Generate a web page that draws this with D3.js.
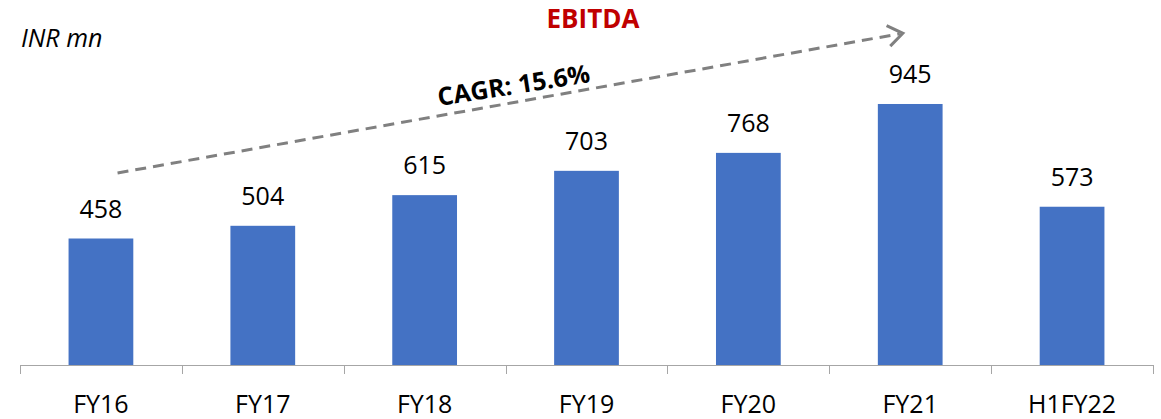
<!DOCTYPE html>
<html lang="en">
<head>
    <meta charset="UTF-8">
    <script src="https://cdn.jsdelivr.net/npm/d3@7"></script>
    <style>
        body {margin: 0; background: #ffffff}
        svg {display: block; font-family: "Open Sans", sans-serif}
    </style>
</head>
<body>
<svg class="chart"></svg>
<script type="text/javascript">
    const categories = ['FY16', 'FY17', 'FY18', 'FY19', 'FY20', 'FY21', 'H1FY22'];
    const ebitda = [458, 504, 615, 703, 768, 945, 573];
    const cagr_label = 'CAGR: 15.6%';

    let width = 1161;
    let height = 419;
    let base_y = 365;

    var svg = d3.select('.chart')
        .attr('width', width)
        .attr('height', height);

    var x_band = d3.scaleBand()
        .domain(categories)
        .range([20, 1153])
        .paddingInner(0.6)
        .paddingOuter(0.3);

    var x_tick = d3.scaleBand()
        .domain(categories)
        .range([20, 1153]);

    var y_range = d3.scaleLinear()
        .domain([0, 1000])
        .range([base_y, base_y - 276.2]);

    // bars
    svg.append('g').selectAll('rect')
        .data(ebitda)
        .enter()
        .append('rect')
        .attr('x', (d, i) => x_band(categories[i]))
        .attr('width', x_band.bandwidth())
        .attr('y', d => y_range(d))
        .attr('height', d => base_y - y_range(d))
        .attr('fill', '#4472C4');

    // value labels
    svg.append('g').selectAll('text')
        .data(ebitda)
        .enter()
        .append('text')
        .attr('x', (d, i) => x_band(categories[i]) + x_band.bandwidth() / 2)
        .attr('y', d => y_range(d) - 21)
        .attr('text-anchor', 'middle')
        .attr('font-size', 25)
        .attr('fill', '#000')
        .text(d => d);

    // x axis, ticks between categories
    var axis = d3.axisBottom(x_tick).tickSize(0).tickFormat('');
    var ax = svg.append('g')
        .attr('transform', 'translate(0,' + base_y + ')')
        .call(axis);
    ax.select('.domain').attr('stroke', '#A6A6A6').attr('stroke-width', 1);

    var bounds = categories.map(c => x_tick(c)).concat([x_tick.range()[1]]);
    ax.selectAll('.sep')
        .data(bounds)
        .enter()
        .append('line')
        .attr('x1', d => Math.round(d) + 0.5)
        .attr('x2', d => Math.round(d) + 0.5)
        .attr('y1', 0)
        .attr('y2', 9)
        .attr('stroke', '#A6A6A6');

    svg.append('g').selectAll('text')
        .data(categories)
        .enter()
        .append('text')
        .attr('x', d => x_tick(d) + x_tick.bandwidth() / 2)
        .attr('y', 413)
        .attr('text-anchor', 'middle')
        .attr('font-size', 25)
        .attr('fill', '#000')
        .text(d => d);

    // title and unit
    svg.append('text').attr('x', 593).attr('y', 28).attr('text-anchor', 'middle')
        .attr('font-size', 26).attr('font-weight', 'bold').attr('fill', '#C00000').text('EBITDA');
    svg.append('text').attr('x', 21).attr('y', 47)
        .attr('font-size', 25).attr('font-style', 'italic').attr('fill', '#000').text('INR mn');

    // growth arrow, from above the first bar to above the FY21 bar
    let x0 = x_band(categories[0]) + 49;
    let y0 = y_range(ebitda[0]) - 65.5;
    let x1 = x_band(categories[5]) + 25;
    let y1 = 33.3;
    svg.append('line')
        .attr('x1', x0).attr('y1', y0).attr('x2', x1 - 3).attr('y2', y1 + 0.5)
        .attr('stroke', '#808080').attr('stroke-width', 3)
        .attr('stroke-dasharray', '11 7');
    let ang = Math.atan2(y1 - y0, x1 - x0);
    let wing = 18;
    let spread = 0.62;
    svg.append('path')
        .attr('d', 'M' + (x1 - wing * Math.cos(ang - spread)) + ',' + (y1 - wing * Math.sin(ang - spread)) +
            'L' + x1 + ',' + y1 +
            'L' + (x1 - wing * Math.cos(ang + spread)) + ',' + (y1 - wing * Math.sin(ang + spread)))
        .attr('fill', 'none').attr('stroke', '#808080').attr('stroke-width', 3);

    svg.append('text')
        .attr('transform', 'translate(515,94) rotate(-9)')
        .attr('text-anchor', 'middle')
        .attr('font-size', 25)
        .attr('font-weight', 'bold')
        .attr('fill', '#000')
        .text(cagr_label);
</script>
</body>
</html>
